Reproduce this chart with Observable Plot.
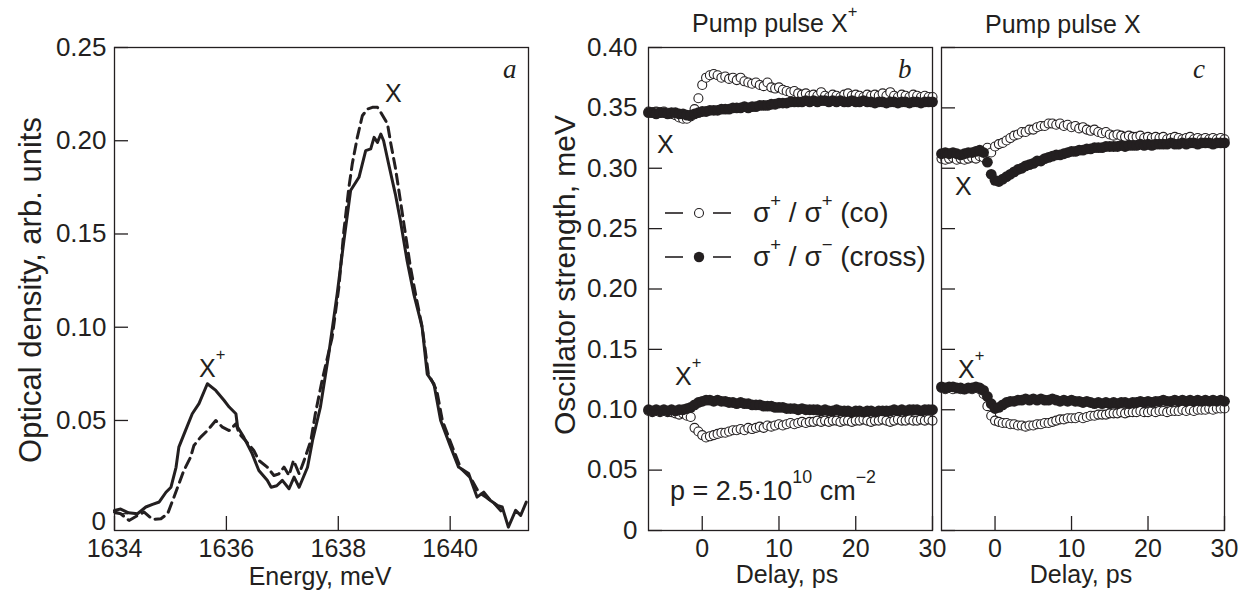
<!DOCTYPE html>
<html><head><meta charset="utf-8">
<script src="https://cdn.jsdelivr.net/npm/d3@7"></script>
<script src="https://cdn.jsdelivr.net/npm/@observablehq/plot@0.6"></script>
<style>
body{margin:0;background:#fff;}
#wrap{position:relative;width:1247px;height:594px;overflow:hidden;}
</style></head><body><div id="wrap"></div>
<script>
// ---------- Panel a: optical density spectra ----------
const energySolid = [1634.00,1634.11,1634.25,1634.41,1634.56,1634.68,1634.80,1634.92,1635.01,1635.10,1635.15,1635.27,1635.39,1635.51,1635.66,1635.81,1635.96,1636.05,1636.17,1636.20,1636.31,1636.46,1636.58,1636.73,1636.80,1636.90,1637.00,1637.12,1637.21,1637.30,1637.45,1637.54,1637.68,1637.83,1637.98,1638.10,1638.22,1638.37,1638.49,1638.58,1638.64,1638.70,1638.76,1638.81,1638.90,1639.02,1639.11,1639.23,1639.35,1639.47,1639.50,1639.59,1639.71,1639.83,1640.01,1640.15,1640.33,1640.48,1640.60,1640.72,1640.84,1640.93,1641.04,1641.17,1641.26,1641.36];
const odSolid = [0.0018,0.0025,0.0005,0.0000,0.0036,0.0050,0.0063,0.0115,0.0142,0.0249,0.0357,0.0447,0.0536,0.0590,0.0697,0.0661,0.0607,0.0572,0.0536,0.0465,0.0411,0.0322,0.0232,0.0179,0.0142,0.0150,0.0179,0.0134,0.0196,0.0142,0.0249,0.0393,0.0571,0.0858,0.1178,0.1464,0.1733,0.1804,0.1947,0.1956,0.2018,0.1991,0.2036,0.2000,0.1875,0.1714,0.1572,0.1357,0.1178,0.1036,0.0997,0.0749,0.0696,0.0500,0.0357,0.0250,0.0215,0.0089,0.0116,0.0071,0.0045,0.0036,-0.0072,0.0018,-0.0009,0.0062];
const energyDashed = [1634.00,1634.11,1634.26,1634.41,1634.53,1634.68,1634.83,1634.95,1635.04,1635.13,1635.24,1635.36,1635.42,1635.54,1635.66,1635.81,1635.93,1636.05,1636.17,1636.23,1636.34,1636.49,1636.58,1636.73,1636.85,1636.94,1637.03,1637.12,1637.20,1637.30,1637.39,1637.51,1637.59,1637.71,1637.89,1638.01,1638.10,1638.19,1638.25,1638.34,1638.43,1638.52,1638.61,1638.70,1638.76,1638.88,1638.94,1639.02,1639.11,1639.20,1639.29,1639.38,1639.50,1639.61,1639.76,1639.86,1640.04,1640.19,1640.37,1640.51,1640.65,1640.79,1640.93];
const odDashed = [0.0009,0.0000,-0.0036,-0.0010,0.0009,-0.0030,-0.0027,0.0000,0.0071,0.0143,0.0232,0.0303,0.0366,0.0411,0.0446,0.0500,0.0464,0.0446,0.0482,0.0429,0.0393,0.0339,0.0286,0.0250,0.0205,0.0214,0.0250,0.0205,0.0286,0.0214,0.0286,0.0393,0.0536,0.0714,0.0946,0.1214,0.1518,0.1750,0.1876,0.2018,0.2134,0.2170,0.2179,0.2179,0.2152,0.2090,0.1983,0.1857,0.1679,0.1501,0.1322,0.1179,0.1000,0.0750,0.0661,0.0500,0.0357,0.0243,0.0190,0.0115,0.0087,0.0055,0.0007];
const energyTicks = [1634,1636,1638,1640];
const odTicks = [0,0.05,0.10,0.15,0.20,0.25];

// ---------- Panels b, c: oscillator strength vs delay ----------
const delay = [-7,-6.5,-6,-5.5,-5,-4.5,-4,-3.5,-3,-2.5,
 -2,-1.5,-1,-0.5,0,0.5,1,1.5,2,2.5,
 3,3.5,4,4.5,5,5.5,6,6.5,7,7.5,
 8,8.5,9,9.5,10,10.5,11,11.5,12,12.5,
 13,13.5,14,14.5,15,15.5,16,16.5,17,17.5,
 18,18.5,19,19.5,20,20.5,21,21.5,22,22.5,
 23,23.5,24,24.5,25,25.5,26,26.5,27,27.5,
 28,28.5,29,29.5,30];
// Pump pulse X+ (panel b)
const bCoX = [0.347,0.346,0.347,0.346,0.347,0.346,0.345,0.344,0.342,0.341,
 0.341,0.343,0.349,0.358,0.369,0.375,0.377,0.378,0.377,0.375,
 0.376,0.374,0.375,0.373,0.375,0.372,0.371,0.370,0.371,0.369,
 0.368,0.371,0.367,0.366,0.367,0.365,0.364,0.363,0.364,0.362,
 0.361,0.362,0.360,0.361,0.360,0.363,0.360,0.359,0.361,0.360,
 0.359,0.361,0.362,0.360,0.361,0.360,0.359,0.361,0.360,0.361,
 0.360,0.362,0.360,0.363,0.360,0.359,0.361,0.360,0.359,0.361,
 0.360,0.359,0.360,0.359,0.359];
const bCrossX = [0.346,0.346,0.345,0.346,0.346,0.345,0.346,0.346,0.345,0.345,
 0.344,0.344,0.345,0.346,0.347,0.347,0.348,0.348,0.348,0.349,
 0.349,0.349,0.350,0.350,0.350,0.351,0.350,0.351,0.351,0.352,
 0.352,0.352,0.353,0.353,0.354,0.354,0.354,0.355,0.355,0.355,
 0.355,0.356,0.355,0.356,0.355,0.356,0.356,0.355,0.356,0.355,
 0.356,0.355,0.355,0.356,0.355,0.355,0.356,0.355,0.355,0.354,
 0.355,0.355,0.354,0.355,0.355,0.354,0.355,0.355,0.354,0.355,
 0.355,0.354,0.355,0.355,0.355];
const bCoXp = [0.099,0.098,0.099,0.098,0.099,0.098,0.098,0.097,0.096,0.097,
 0.095,0.094,0.085,0.082,0.079,0.077,0.078,0.079,0.080,0.081,
 0.081,0.082,0.083,0.083,0.084,0.083,0.085,0.084,0.085,0.086,
 0.085,0.087,0.086,0.087,0.088,0.087,0.088,0.089,0.088,0.089,
 0.090,0.089,0.090,0.090,0.091,0.090,0.091,0.090,0.091,0.091,
 0.090,0.091,0.091,0.090,0.091,0.091,0.092,0.091,0.090,0.091,
 0.091,0.092,0.091,0.090,0.091,0.092,0.091,0.091,0.092,0.091,
 0.091,0.092,0.091,0.092,0.091];
const bCrossXp = [0.100,0.099,0.100,0.099,0.100,0.099,0.100,0.099,0.100,0.100,
 0.101,0.102,0.104,0.106,0.107,0.108,0.108,0.107,0.108,0.107,
 0.107,0.106,0.106,0.105,0.106,0.105,0.105,0.104,0.104,0.104,
 0.103,0.103,0.103,0.102,0.102,0.102,0.101,0.101,0.101,0.100,
 0.101,0.100,0.100,0.100,0.100,0.099,0.100,0.099,0.099,0.100,
 0.099,0.099,0.099,0.098,0.099,0.099,0.098,0.099,0.099,0.098,
 0.099,0.099,0.099,0.099,0.100,0.099,0.100,0.099,0.100,0.100,
 0.100,0.099,0.100,0.100,0.100];
// Pump pulse X (panel c)
const cCoX = [0.308,0.307,0.308,0.309,0.307,0.308,0.307,0.308,0.309,0.308,
 0.310,0.309,0.317,0.313,0.318,0.320,0.321,0.323,0.325,0.327,
 0.328,0.330,0.330,0.332,0.332,0.334,0.335,0.335,0.337,0.337,
 0.336,0.337,0.335,0.336,0.334,0.335,0.333,0.334,0.332,0.331,
 0.332,0.330,0.329,0.330,0.328,0.327,0.328,0.327,0.326,0.327,
 0.326,0.326,0.327,0.325,0.326,0.325,0.326,0.325,0.326,0.324,
 0.325,0.326,0.325,0.324,0.325,0.326,0.324,0.325,0.324,0.325,
 0.324,0.325,0.324,0.325,0.324];
const cCrossX = [0.312,0.313,0.312,0.313,0.312,0.311,0.312,0.313,0.313,0.314,
 0.315,0.313,0.305,0.295,0.290,0.289,0.291,0.293,0.295,0.297,
 0.299,0.300,0.302,0.303,0.304,0.306,0.306,0.308,0.309,0.310,
 0.311,0.311,0.312,0.313,0.314,0.314,0.315,0.315,0.316,0.316,
 0.317,0.317,0.317,0.318,0.318,0.318,0.318,0.319,0.318,0.319,
 0.319,0.319,0.320,0.319,0.320,0.319,0.320,0.320,0.320,0.320,
 0.321,0.320,0.320,0.321,0.320,0.321,0.321,0.320,0.321,0.321,
 0.321,0.320,0.321,0.321,0.321];
const cCoXp = [0.118,0.117,0.118,0.117,0.118,0.117,0.117,0.118,0.117,0.118,
 0.117,0.113,0.103,0.095,0.091,0.090,0.089,0.089,0.088,0.088,
 0.087,0.087,0.086,0.087,0.087,0.088,0.088,0.089,0.089,0.090,
 0.091,0.092,0.092,0.093,0.093,0.093,0.094,0.093,0.094,0.095,
 0.095,0.096,0.096,0.096,0.097,0.097,0.097,0.098,0.097,0.098,
 0.098,0.098,0.099,0.098,0.098,0.099,0.098,0.099,0.099,0.098,
 0.099,0.099,0.099,0.100,0.099,0.100,0.099,0.100,0.100,0.100,
 0.101,0.100,0.101,0.101,0.101];
const cCrossXp = [0.119,0.118,0.119,0.119,0.118,0.118,0.117,0.118,0.118,0.119,
 0.118,0.116,0.111,0.105,0.101,0.102,0.104,0.106,0.107,0.107,
 0.108,0.108,0.109,0.108,0.109,0.108,0.109,0.108,0.108,0.109,
 0.108,0.107,0.108,0.107,0.108,0.107,0.107,0.106,0.107,0.106,
 0.105,0.106,0.105,0.106,0.105,0.106,0.105,0.106,0.106,0.105,
 0.106,0.106,0.107,0.106,0.107,0.106,0.107,0.107,0.108,0.107,
 0.107,0.108,0.107,0.108,0.107,0.108,0.107,0.108,0.107,0.108,
 0.107,0.108,0.107,0.108,0.107];
const delayTicks = [0,10,20,30];
const strengthTicks = [0,0.05,0.10,0.15,0.20,0.25,0.30,0.35,0.40];

// ---------- drawing ----------
const W = 1247, H = 594;
const ink = "#231f20";
const FONT = "'Liberation Sans', Arial, Helvetica, sans-serif";
const SERIF = "'Liberation Serif', 'Times New Roman', serif";
const wrap = document.getElementById("wrap");

const pairs = (xs, ys) => xs.map((x, i) => ({x, y: ys[i]}));

function layer(opts) {
  const svg = Plot.plot({
    width: W, height: H, ...opts,
    style: {background: "transparent", overflow: "visible", fontFamily: FONT, fontSize: "26px", color: ink}
  });
  svg.style.position = "absolute"; svg.style.left = "0px"; svg.style.top = "0px";
  wrap.appendChild(svg);
}

const TICK = 14;
// Panel a
{
  const m = {marginLeft: 114, marginRight: 719, marginTop: 47, marginBottom: 64};
  const pw = W - m.marginLeft - m.marginRight, ph = H - m.marginTop - m.marginBottom;
  layer({
    ...m,
    x: {domain: [1634, 1641.4]},
    y: {domain: [-0.009, 0.25]},
    marks: [
      Plot.line(pairs(energyDashed, odDashed), {x: "x", y: "y", stroke: ink, strokeWidth: 3, strokeDasharray: "10,6", strokeLinejoin: "round"}),
      Plot.line(pairs(energySolid, odSolid), {x: "x", y: "y", stroke: ink, strokeWidth: 3, strokeLinejoin: "round"}),
      Plot.tickY(odTicks, {y: d => d, stroke: ink, strokeWidth: 1.3, insetRight: pw - TICK}),
      Plot.tickX(energyTicks, {x: d => d, stroke: ink, strokeWidth: 1.3, insetTop: ph - TICK}),
      Plot.axisY({ticks: odTicks, tickSize: 0, tickPadding: 8, label: null, tickFormat: d => d === 0 ? "" : d.toFixed(2)}),
      Plot.axisX({ticks: energyTicks, tickSize: 0, tickPadding: 9, label: null, fontSize: 25, tickFormat: d => String(d)}),
      Plot.frame({stroke: ink, strokeWidth: 1.3})
    ]
  });
}
// Panels b, c
function delayPanel(left, right, co, cross, coP, crossP, showLabels) {
  const m = {marginLeft: left, marginRight: right, marginTop: 47, marginBottom: 64};
  const pw = W - left - right, ph = H - 47 - 64;
  const marks = [
    Plot.dot(pairs(delay, co), {x: "x", y: "y", r: 4.5, fill: "white", stroke: ink, strokeWidth: 1.1}),
    Plot.dot(pairs(delay, coP), {x: "x", y: "y", r: 4.5, fill: "white", stroke: ink, strokeWidth: 1.1}),
    Plot.dot(pairs(delay, cross), {x: "x", y: "y", r: 5.4, fill: ink, stroke: "none"}),
    Plot.dot(pairs(delay, crossP), {x: "x", y: "y", r: 5.4, fill: ink, stroke: "none"}),
    Plot.tickY(strengthTicks, {y: d => d, stroke: ink, strokeWidth: 1.3, insetRight: pw - TICK}),
    Plot.tickX(delayTicks, {x: d => d, stroke: ink, strokeWidth: 1.3, insetTop: ph - TICK}),
    Plot.axisX({ticks: delayTicks, tickSize: 0, tickPadding: 9, label: null, fontSize: 25, tickFormat: d => String(d)}),
    Plot.frame({stroke: ink, strokeWidth: 1.3})
  ];
  if (showLabels) marks.push(Plot.axisY({ticks: strengthTicks, tickSize: 0, tickPadding: 11, label: null, tickFormat: d => d === 0 ? "0" : d.toFixed(2)}));
  else marks.push(Plot.axisY({ticks: [], label: null}));
  layer({...m, x: {domain: [-7, 30]}, y: {domain: [0, 0.40]}, marks});
}
delayPanel(648, 315, bCoX, bCrossX, bCoXp, bCrossXp, true);
delayPanel(941, 23, cCoX, cCrossX, cCoXp, cCrossXp, false);

// ---------- annotations ----------
const ann = d3.select(wrap).append("svg")
  .attr("width", W).attr("height", H)
  .style("position", "absolute").style("left", "0px").style("top", "0px")
  .attr("font-family", FONT).attr("fill", ink);

function txt(x, y, parts, o = {}) {
  const size = o.size || 25;
  const supUp = (o.supUp || 0.68) * size;
  const t = ann.append("text").attr("x", x).attr("y", y).attr("font-size", size)
    .attr("text-anchor", o.anchor || "start");
  if (o.rotate) t.attr("transform", `rotate(${o.rotate},${x},${y})`);
  if (o.family) t.attr("font-family", o.family);
  if (o.italic) t.attr("font-style", "italic");
  let up = false;
  for (const p of parts) {
    const isSup = Array.isArray(p);
    const s = isSup ? p[0] : p;
    const ts = t.append("tspan").text(s);
    if (isSup && !up) { ts.attr("dy", -supUp).attr("font-size", size * 0.66); up = true; }
    else if (isSup) { ts.attr("font-size", size * 0.66); }
    else if (up) { ts.attr("dy", supUp); up = false; }
  }
  return t;
}

// titles
txt(692, 32, ["Pump pulse X", ["+"]], {supUp: 0.62});
txt(985, 33, ["Pump pulse X"]);
// axis titles
txt(320, 585, ["Energy, meV"], {anchor: "middle"});
txt(787, 583, ["Delay, ps"], {anchor: "middle"});
txt(1081, 583, ["Delay, ps"], {anchor: "middle"});
txt(41, 290, ["Optical density, arb. units"], {anchor: "middle", rotate: -90, size: 31});
txt(575, 275, ["Oscillator strength, meV"], {anchor: "middle", rotate: -90, size: 30});
// zero label of panel a (sits below the zero tick in the original)
txt(106, 530, ["0"], {anchor: "end", size: 26});
// panel letters
txt(503, 78, ["a"], {family: SERIF, italic: true, size: 27});
txt(898, 78, ["b"], {family: SERIF, italic: true, size: 27});
txt(1193, 78, ["c"], {family: SERIF, italic: true, size: 27});
// peak labels
txt(385, 102, ["X"]);
txt(199, 377, ["X", ["+"]]);
txt(657, 153, ["X"]);
txt(675, 385, ["X", ["+"]]);
txt(955, 195, ["X"]);
txt(958, 378, ["X", ["+"]]);
// density note
txt(670, 500, ["p = 2.5·10", ["10"], " cm", ["−2"]], {size: 27, supUp: 0.62});
// legend
const leg = [
  {y: 213, filled: false, parts: ["σ", ["+"], " / σ", ["+"], " (co)"]},
  {y: 257, filled: true, parts: ["σ", ["+"], " / σ", ["−"], " (cross)"]}
];
for (const l of leg) {
  ann.append("line").attr("x1", 665).attr("x2", 683).attr("y1", l.y).attr("y2", l.y).attr("stroke", ink).attr("stroke-width", 1.6);
  ann.append("line").attr("x1", 713).attr("x2", 731).attr("y1", l.y).attr("y2", l.y).attr("stroke", ink).attr("stroke-width", 1.6);
  ann.append("circle").attr("cx", 699).attr("cy", l.y).attr("r", l.filled ? 5.2 : 4.5)
    .attr("fill", l.filled ? ink : "white").attr("stroke", l.filled ? "none" : ink).attr("stroke-width", 1.1);
  txt(753, l.y + 9, l.parts, {size: 28, supUp: 0.55});
}
</script>
</body></html>
